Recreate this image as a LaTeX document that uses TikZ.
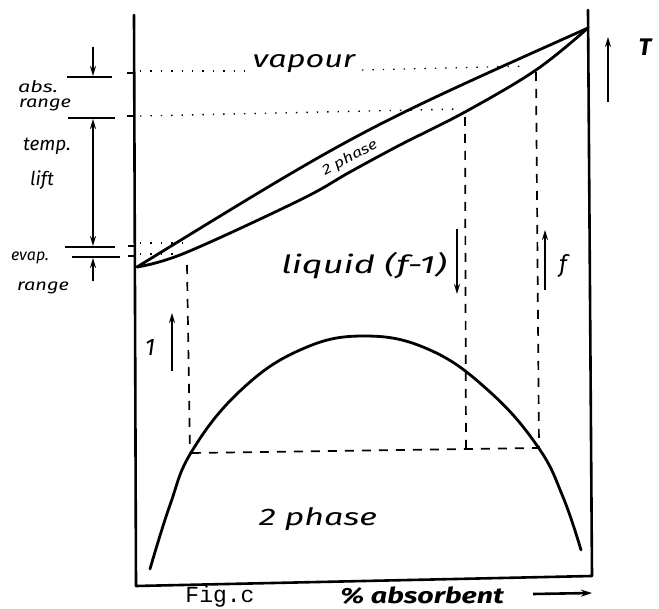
\documentclass[tikz,border=0pt]{standalone}
\usepackage{fontspec}
\newfontfamily\hand{Fira Sans}
\newfontfamily\typew{Liberation Mono}
\usetikzlibrary{arrows.meta}
\newcommand{\wide}[2][1.25]{\scalebox{#1}[1]{#2}}
\tikzset{
  axisline/.style={line width=2.6pt,line cap=round,line join=round},
  curveline/.style={line width=2.8pt,line cap=round},
  dotline/.style={line width=1.4pt,dash pattern=on 1.4pt off 9pt},
  dashline/.style={line width=1.7pt,dash pattern=on 9pt off 8pt},
  tickline/.style={line width=1.8pt},
  arr/.style={line width=1.8pt,-{Stealth[length=10pt,width=6pt]}},
  darr/.style={line width=1.8pt,{Stealth[length=10pt,width=6pt]}-{Stealth[length=10pt,width=6pt]}},
  lab/.style={font=\hand\itshape\fontsize{16}{17}\selectfont,inner sep=0pt},
  biglab/.style={font=\hand\itshape\fontsize{24}{26}\selectfont,inner sep=0pt},
}
\begin{document}
\begin{tikzpicture}[x=1pt,y=-1pt]
\useasboundingbox (0,0) rectangle (659,609);
% axes
\coordinate (tl) at (134,15);
\coordinate (bl) at (136,586);
\coordinate (br) at (592,576);
\coordinate (tr) at (588,10);
\draw[axisline] (tl) -- (bl) -- (br) -- (tr);
% vapour / liquid lines
\coordinate (o) at (137,267);
\coordinate (top) at (588,28);
\draw[curveline] (o) .. controls (360,130) .. (top);
\draw[curveline] plot[smooth,tension=0.6] coordinates {(137,267) (185,253) (300,200) (350,172) (400,145) (465,112) (536,70) (588,28)};
% dotted lines
\draw[dotline] (140,71) -- (250,71);
\draw[dotline] (362,70) -- (528,66);
\draw[dotline] (140,116) -- (460,109);
\draw[dotline] (140,243) -- (184,243);
\draw[dotline] (140,254) -- (184,254);
% axis ticks
\draw[tickline] (127,73) -- (134,73);
\draw[tickline] (127,116) -- (134,116);
\draw[tickline] (128,246) -- (134,246);
\draw[tickline] (128,256) -- (134,256);
% dashed lines
\draw[dashline] (187,265) -- (190,452);
\draw[dashline] (465,117) -- (466,448);
\draw[dashline] (536,72) -- (539,447);
\draw[dashline] (192,453) -- (538,448);
% dome
\draw[curveline] plot[smooth,tension=0.7] coordinates {(150,569) (170,505) (192,451) (240,391) (300,350) (364,336) (430,350) (490,392) (538,447) (563,497) (581,550)};
% left annotations
\draw[tickline] (67,77) -- (112,77);
\draw[tickline] (68,118) -- (115,118);
\draw[tickline] (65,247) -- (115,247);
\draw[tickline] (72,257) -- (120,257);
\draw[arr] (93,47) -- (93,76);
\draw[darr] (93,119) -- (93,246);
\draw[arr] (93,281) -- (93,258);
\node[lab] (abs) at (38,87) {\wide[1.35]{abs.}};
\node[lab] (absr) at (45,105) {\wide[1.25]{range}};
\node[lab,font=\hand\itshape\fontsize{19}{20}\selectfont] (temp) at (47,146) {temp.};
\node[lab,font=\hand\itshape\fontsize{19}{20}\selectfont] (lift) at (42,180) {lift};
\node[lab] (evap) at (30,258) {evap.};
\node[lab] (evapr) at (43,288) {\wide[1.25]{range}};
% region labels
\node[biglab] (vap) at (304,64) {\wide[1.35]{vapour}};
\node[lab,rotate=28,font=\hand\itshape\fontsize{14}{15}\selectfont] (tp) at (350,158) {\wide{2 phase}};
\node[biglab,font=\hand\itshape\fontsize{25}{27}\selectfont] (liq) at (364,266) {\wide[1.45]{liquid (f-1)}};
\node[biglab] (tph) at (318,519) {\wide[1.42]{2 phase}};
% arrows T, f, f-1, 1
\draw[arr] (608,102) -- (608,37);
\node[font=\hand\itshape\bfseries\fontsize{24}{26}\selectfont,inner sep=0pt] (T) at (645,47) {T};
\draw[arr] (545,290) -- (545,230);
\node[biglab] (f) at (563,266) {f};
\draw[arr] (457,229) -- (457,294);
\draw[arr] (172,371) -- (172,313);
\node[biglab] (one) at (150,347) {1};
% bottom
\node[font=\typew\fontsize{23}{24}\selectfont,inner sep=0pt,anchor=base] (fig) at (220,602) {Fig.c};
\node[font=\hand\itshape\bfseries\fontsize{22}{24}\selectfont,inner sep=0pt,anchor=base] (xl) at (422,603) {\wide[1.3]{\% absorbent}};
\draw[line width=2.6pt,-{Stealth[length=11pt,width=7pt]}] (533,594) -- (592,593);
\end{tikzpicture}
\end{document}
